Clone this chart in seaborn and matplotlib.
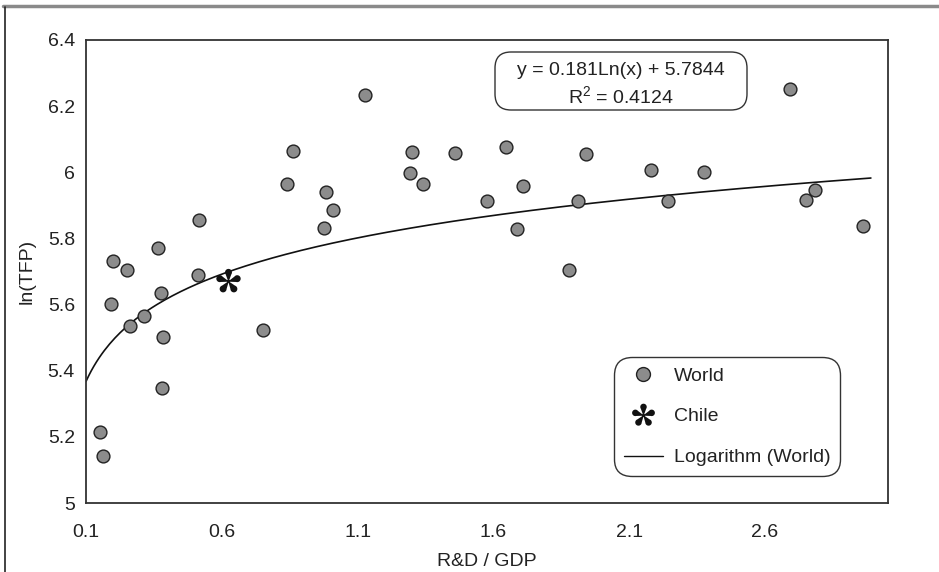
import numpy as np
import pandas as pd
import matplotlib
matplotlib.use("Agg")
import matplotlib.pyplot as plt
from matplotlib.path import Path
from matplotlib.lines import Line2D
from matplotlib.patches import FancyBboxPatch
import seaborn as sns

# ---------------- data ----------------
world_rd = [0.200, 0.191, 0.250, 0.365, 0.377, 0.516, 0.514, 0.312, 0.262,
            0.841, 0.863, 0.982, 1.011, 0.976, 1.128,
            0.385, 0.381, 0.153, 0.163, 0.753,
            1.299, 1.293, 1.340, 1.458, 1.648, 1.576, 1.708, 1.688, 1.940,
            1.913, 1.877, 2.180, 2.244, 2.374, 2.694, 2.751, 2.784, 2.961]
world_tfp = [5.732, 5.602, 5.705, 5.770, 5.635, 5.855, 5.689, 5.566, 5.536,
             5.966, 6.063, 5.940, 5.886, 5.833, 6.235,
             5.501, 5.347, 5.216, 5.143, 5.524,
             6.062, 5.999, 5.964, 6.058, 6.076, 5.912, 5.960, 5.828, 6.055,
             5.912, 5.705, 6.006, 5.912, 6.002, 6.251, 5.917, 5.947, 5.837]
chile_rd = [0.622]
chile_tfp = [5.672]

trend_coef = [0.181, 5.7844]   # y = a*ln(x) + b
trend_r2 = 0.4124
trend_range = [0.1, 2.99]

x_ticks = [0.1, 0.6, 1.1, 1.6, 2.1, 2.6]
y_ticks = [5.0, 5.2, 5.4, 5.6, 5.8, 6.0, 6.2, 6.4]
x_label = "R&D / GDP"
y_label = "ln(TFP)"
legend_labels = ["World", "Chile", "Logarithm (World)"]

# ---------------- style ----------------
sns.set_style("white")
plt.rcParams['font.family'] = ['Liberation Sans', 'DejaVu Sans']
plt.rcParams['mathtext.fontset'] = 'custom'
plt.rcParams['mathtext.rm'] = 'Liberation Sans'
plt.rcParams['mathtext.it'] = 'Liberation Sans'

TXT = "#222222"
FS = 14


def flower_marker(n=5):
    verts, codes = [], []
    a = np.deg2rad(np.linspace(-125, 125, 36))
    arc = [(0.66 + 0.25 * np.cos(t), 0.25 * np.sin(t)) for t in a]
    base = np.array([(0.05, -0.035)] + arc + [(0.05, 0.035)])
    for k in range(n):
        ang = np.pi / 2 + 2 * np.pi * k / n
        R = np.array([[np.cos(ang), -np.sin(ang)], [np.sin(ang), np.cos(ang)]])
        pts = base @ R.T
        verts.extend(pts.tolist())
        verts.append(pts[0].tolist())
        codes.extend([Path.MOVETO] + [Path.LINETO] * (len(pts) - 1) + [Path.CLOSEPOLY])
    t = np.linspace(0, 2 * np.pi, 20)
    c = np.column_stack([0.1 * np.cos(t), 0.1 * np.sin(t)])
    verts.extend(c.tolist())
    verts.append(c[0].tolist())
    codes.extend([Path.MOVETO] + [Path.LINETO] * (len(c) - 1) + [Path.CLOSEPOLY])
    return Path(verts, codes)


chile_marker = flower_marker()

fig = plt.figure(figsize=(9.39, 5.72), dpi=100)
ax = fig.add_axes([86 / 939, 69 / 572, 802 / 939, 463 / 572])

world = pd.DataFrame({"rd": world_rd, "tfp": world_tfp})
chile = pd.DataFrame({"rd": chile_rd, "tfp": chile_tfp})

xs = np.linspace(trend_range[0], trend_range[1], 300)
ys = trend_coef[0] * np.log(xs) + trend_coef[1]
sns.lineplot(x=xs, y=ys, ax=ax, color="#111111", lw=1.2, zorder=2)

sns.scatterplot(data=world, x="rd", y="tfp", ax=ax, s=85, color="#8c8c8c",
                edgecolor="#222222", linewidth=1.0, zorder=3)
ax.scatter(chile["rd"], chile["tfp"], marker=chile_marker, s=330,
           color="#111111", linewidths=0, zorder=4)

ax.set_xlim(0.1, 3.053)
ax.set_ylim(5.0, 6.4)
ax.set_xticks(x_ticks)
ax.set_yticks(y_ticks)
ax.set_xticklabels([f"{v:g}" for v in x_ticks])
ax.set_yticklabels([f"{v:g}" for v in y_ticks])
ax.tick_params(axis="both", direction="in", length=8, width=1, colors="#333333",
               labelcolor=TXT, labelsize=FS)
ax.tick_params(axis="x", pad=15)
ax.tick_params(axis="y", pad=8)
ax.set_xlabel(x_label, fontsize=FS, color=TXT, labelpad=9)
ax.set_ylabel(y_label, fontsize=FS, color=TXT, labelpad=9)
for sp in ax.spines.values():
    sp.set_visible(True)
    sp.set_color("#333333")
    sp.set_linewidth(1.3)

# equation box
eq = f"y = {trend_coef[0]:g}Ln(x) + {trend_coef[1]:g}\nR$^2$ = {trend_r2:g}"
ax.text(0.667, 0.9035, eq, transform=ax.transAxes, ha="center", va="center",
        fontsize=FS, color=TXT, linespacing=1.38, zorder=6)
r = 16 / 939
fig.add_artist(FancyBboxPatch((495 / 939, 1 - 110 / 572), (747 - 495) / 939, 58 / 572,
                              boxstyle=f"round,pad=0,rounding_size={r}",
                              mutation_aspect=939 / 572, transform=fig.transFigure,
                              fc="none", ec="#333333", lw=1.0, zorder=5))

handles = [
    Line2D([], [], ls="none", marker="o", ms=10, mfc="#8c8c8c", mec="#222222", mew=1.0),
    Line2D([], [], ls="none", marker=chile_marker, ms=17, mfc="#111111", mec="none"),
    Line2D([], [], color="#111111", lw=1.0),
]
leg = ax.legend(handles, legend_labels, loc="lower right", bbox_to_anchor=(0.94, 0.058),
                fontsize=FS, frameon=True, fancybox=True, framealpha=1,
                edgecolor="#333333", labelspacing=1.2, handlelength=2.0,
                handletextpad=0.55, borderpad=0.5, borderaxespad=0)
leg.get_frame().set_linewidth(1.0)
leg.get_frame().set_boxstyle("round,pad=0,rounding_size=0.9")
for t in leg.get_texts():
    t.set_color(TXT)

# outer frame pieces
fig.add_artist(Line2D([3 / 939, 1.0], [1 - 6 / 572, 1 - 6 / 572], transform=fig.transFigure,
                      color="#8a8a8a", lw=2.5))
fig.add_artist(Line2D([5 / 939, 5 / 939], [0, 1 - 7 / 572], transform=fig.transFigure,
                      color="#222222", lw=1.2))

fig.savefig("out.png", dpi=100)
